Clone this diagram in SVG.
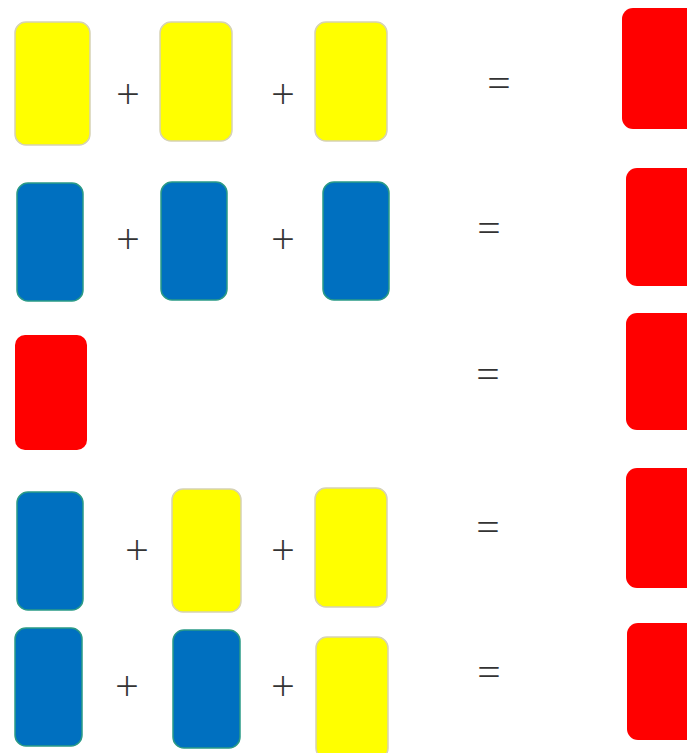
<svg xmlns="http://www.w3.org/2000/svg" width="687" height="753" viewBox="0 0 687 753">
<style>
.y{fill:#FFFF00;stroke:#d6d2b4;stroke-width:1.5}
.b{fill:#0070C0;stroke:#2a9a86;stroke-width:1.5}
.r{fill:#FF0000}
.op{font-family:"Open Sans","Liberation Sans",sans-serif;font-weight:300;font-size:42px;fill:#333;text-anchor:middle}
</style>
<rect width="687" height="753" fill="#fff"/>
<g id="row1">
<g id="r1c1"><rect class="y" x="15" y="22" width="75" height="123" rx="11"/></g>
<g id="r1p1"><text class="op" x="128" y="109">+</text></g>
<g id="r1c2"><rect class="y" x="160" y="22" width="72" height="119" rx="11"/></g>
<g id="r1p2"><text class="op" x="283" y="109">+</text></g>
<g id="r1c3"><rect class="y" x="315" y="22" width="72" height="119" rx="11"/></g>
<g id="r1eq"><text class="op" x="499" y="98">=</text></g>
<g id="r1res"><rect class="r" x="622" y="8" width="80" height="121" rx="11"/></g>
</g>
<g id="row2">
<g id="r2c1"><rect class="b" x="17" y="183" width="66" height="118" rx="11"/></g>
<g id="r2p1"><text class="op" x="128" y="254">+</text></g>
<g id="r2c2"><rect class="b" x="161" y="182" width="66" height="118" rx="11"/></g>
<g id="r2p2"><text class="op" x="283" y="254">+</text></g>
<g id="r2c3"><rect class="b" x="323" y="182" width="66" height="118" rx="11"/></g>
<g id="r2eq"><text class="op" x="489" y="243">=</text></g>
<g id="r2res"><rect class="r" x="626" y="168" width="80" height="118" rx="11"/></g>
</g>
<g id="row3">
<g id="r3c1"><rect class="r" x="15" y="335" width="72" height="115" rx="10"/></g>
<g id="r3eq"><text class="op" x="488" y="389">=</text></g>
<g id="r3res"><rect class="r" x="626" y="313" width="80" height="117" rx="11"/></g>
</g>
<g id="row4">
<g id="r4c1"><rect class="b" x="17" y="492" width="66" height="118" rx="11"/></g>
<g id="r4p1"><text class="op" x="137" y="565">+</text></g>
<g id="r4c2"><rect class="y" x="172" y="489" width="69" height="123" rx="11"/></g>
<g id="r4p2"><text class="op" x="283" y="565">+</text></g>
<g id="r4c3"><rect class="y" x="315" y="488" width="72" height="119" rx="11"/></g>
<g id="r4eq"><text class="op" x="488" y="542">=</text></g>
<g id="r4res"><rect class="r" x="626" y="468" width="80" height="120" rx="11"/></g>
</g>
<g id="row5">
<g id="r5c1"><rect class="b" x="15" y="628" width="67" height="118" rx="11"/></g>
<g id="r5p1"><text class="op" x="127" y="701">+</text></g>
<g id="r5c2"><rect class="b" x="173" y="630" width="67" height="118" rx="11"/></g>
<g id="r5p2"><text class="op" x="283" y="701">+</text></g>
<g id="r5c3"><rect class="y" x="316" y="637" width="72" height="122" rx="11"/></g>
<g id="r5eq"><text class="op" x="489" y="687">=</text></g>
<g id="r5res"><rect class="r" x="627" y="623" width="80" height="117" rx="11"/></g>
</g>
<g id="connectors"></g>
</svg>
